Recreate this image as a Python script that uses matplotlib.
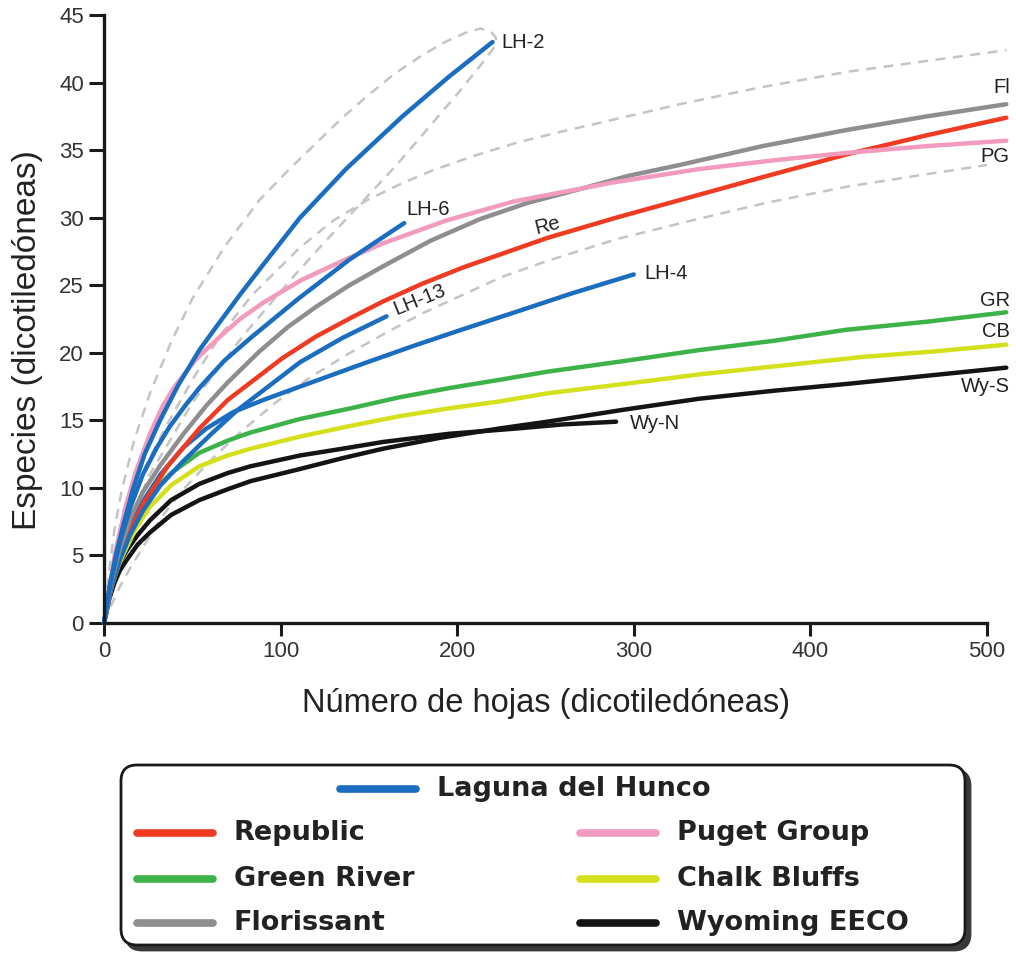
import matplotlib.pyplot as plt
from matplotlib.patches import FancyBboxPatch

plt.rcParams['font.family'] = ['Liberation Sans', 'DejaVu Sans']

# curvas de rarefaccion (x = hojas, y = especies)
lh2_x = [0, 3, 7, 11, 16.6, 23, 31.7, 42, 54, 64, 77, 90, 111, 137, 169, 195, 220]
lh2_y = [0, 2.6, 5.2, 7.3, 10, 12.5, 15, 17.6, 20.2, 22.0, 24.3, 26.5, 30.0, 33.6, 37.5, 40.4, 43]
lh6_x = [0, 4, 9, 15, 22, 30, 37, 46, 54, 68, 83, 96, 110, 125, 139, 155, 170]
lh6_y = [0, 3.2, 6, 8.6, 11, 13, 14.5, 16.1, 17.4, 19.4, 21.1, 22.5, 24, 25.5, 26.9, 28.3, 29.6]
lh13_x = [0, 4, 9, 15, 22, 32, 45, 60, 75, 90, 111, 135, 160]
lh13_y = [0, 2.6, 4.7, 6.6, 8.3, 10.2, 12, 13.9, 15.7, 17.2, 19.3, 21.1, 22.7]
lh4_x = [0, 4, 9, 15, 22, 32, 45, 58, 73, 90, 111, 130, 149, 175, 200, 235, 265, 300]
lh4_y = [0, 2.8, 5, 7.2, 9, 11, 13, 14.4, 15.6, 16.5, 17.5, 18.4, 19.3, 20.5, 21.6, 23.1, 24.4, 25.8]
pg_x = [0, 6, 12, 18, 26, 33, 40, 52, 64, 77, 90, 112, 135, 158, 194, 232, 288, 337, 383, 421, 466, 511]
pg_y = [0, 5, 8.5, 11.2, 14, 16, 17.5, 19.5, 21, 22.5, 23.7, 25.4, 26.8, 28.1, 29.8, 31.2, 32.6, 33.6, 34.3, 34.8, 35.3, 35.7]
fl_x = [0, 4, 9, 15, 22, 32, 45, 58, 70, 88, 104, 120, 139, 158, 185, 213, 240, 269, 297, 326, 373, 421, 466, 511]
fl_y = [0, 3, 5.5, 7.8, 9.7, 11.7, 14, 16.1, 17.8, 20.1, 21.9, 23.4, 25, 26.4, 28.3, 29.9, 31.1, 32.1, 33.1, 33.9, 35.3, 36.5, 37.5, 38.4]
re_x = [0, 4, 9, 15, 22, 36, 54, 70, 87, 101, 120, 140, 158, 180, 203, 227, 251, 290, 326, 373, 421, 466, 511]
re_y = [0, 2.6, 4.8, 6.9, 8.8, 11.6, 14.4, 16.5, 18.2, 19.6, 21.2, 22.6, 23.8, 25.1, 26.3, 27.4, 28.5, 30, 31.3, 33, 34.7, 36.1, 37.4]
gr_x = [0, 3, 6, 9, 12, 18, 26, 38, 54, 70, 83, 111, 140, 167, 196, 224, 251, 295, 337, 380, 420, 466, 511]
gr_y = [0, 2.3, 4, 5.4, 6.5, 8, 9.5, 11.1, 12.6, 13.5, 14.1, 15.1, 15.9, 16.7, 17.4, 18, 18.6, 19.4, 20.2, 20.9, 21.7, 22.3, 23]
cb_x = [0, 3, 5, 8, 11, 18, 26, 38, 54, 70, 83, 111, 140, 167, 196, 224, 251, 295, 337, 380, 430, 470, 511]
cb_y = [0, 2, 3, 4.2, 5.1, 7, 8.6, 10.2, 11.6, 12.4, 12.9, 13.8, 14.6, 15.3, 15.9, 16.4, 17, 17.7, 18.4, 19, 19.7, 20.1, 20.6]
wyn_x = [0, 3, 6, 9, 13, 19, 26, 38, 54, 70, 83, 111, 135, 158, 195, 234, 260, 290]
wyn_y = [0, 2, 3.5, 4.5, 5.4, 6.5, 7.6, 9.1, 10.3, 11.1, 11.6, 12.4, 12.9, 13.4, 14, 14.4, 14.7, 14.9]
wys_x = [0, 3, 6, 9, 13, 19, 26, 38, 54, 70, 83, 111, 135, 158, 190, 224, 251, 295, 337, 380, 421, 466, 511]
wys_y = [0, 1.8, 3, 3.9, 4.7, 5.8, 6.7, 8, 9.1, 9.9, 10.5, 11.4, 12.2, 12.9, 13.7, 14.4, 14.9, 15.8, 16.6, 17.2, 17.7, 18.3, 18.9]

# intervalos de confianza (lineas discontinuas)
ci_lh2_x = [0, 3, 6, 10, 17, 26, 38, 50, 68, 88, 105, 120, 135, 149, 165, 180, 193, 205, 213, 219, 222,
            222, 214, 201, 186, 165, 145, 125, 107, 79, 50, 25, 10, 0]
ci_lh2_y = [0, 4, 7, 9.8, 13.5, 17, 20.8, 24, 27.8, 31.3, 33.6, 35.5, 37.4, 39, 40.7, 42, 43, 43.7, 44, 43.8, 43.3,
            42.8, 41.4, 39.3, 37, 33.8, 31, 28.2, 25.6, 21.3, 16.3, 10.8, 5.5, 0]
ci_up_x = [0, 5, 10, 17, 25, 37, 50, 66, 84, 111, 130, 149, 168, 186, 210, 235, 260, 290, 326, 370, 421, 466, 511]
ci_up_y = [0, 4, 6.8, 9.6, 12, 15, 18, 21.3, 24.3, 27.8, 29.8, 31.3, 32.5, 33.5, 34.6, 35.6, 36.4, 37.3, 38.4, 39.6, 40.8, 41.6, 42.4]
ci_lo_x = [0, 4, 9, 15, 22, 33, 45, 60, 77, 97, 117, 138, 160, 180, 200, 225, 251, 290, 333, 375, 421, 460, 500]
ci_lo_y = [0, 1.3, 2.7, 4.1, 5.6, 7.9, 9.9, 12, 14.1, 16.3, 18.2, 19.9, 21.5, 22.9, 24.1, 25.6, 26.8, 28.4, 29.8, 31.1, 32.3, 33.1, 33.9]

c_blue = '#1b6ebf'
c_red = '#ee3b22'
c_pink = '#f29bbf'
c_gray = '#8e8e90'
c_green = '#3db249'
c_yellow = '#d5e01d'
c_black = '#141414'
c_dash = '#c4c4c4'

fig = plt.figure(figsize=(10.16, 9.57), dpi=100)
ax = fig.add_axes([0.1024, 0.3490, 0.8898, 0.6353])

for xs, ys in [(ci_lh2_x, ci_lh2_y), (ci_up_x, ci_up_y), (ci_lo_x, ci_lo_y)]:
    ax.plot(xs, ys, color=c_dash, lw=1.8, ls=(0, (4, 3)), clip_on=False)

series = [
    (wys_x, wys_y, c_black), (wyn_x, wyn_y, c_black),
    (cb_x, cb_y, c_yellow), (gr_x, gr_y, c_green),
    (lh4_x, lh4_y, c_blue), (re_x, re_y, c_red), (lh13_x, lh13_y, c_blue),
    (fl_x, fl_y, c_gray), (pg_x, pg_y, c_pink),
    (lh6_x, lh6_y, c_blue), (lh2_x, lh2_y, c_blue),
]
for xs, ys, c in series:
    ax.plot(xs, ys, color=c, lw=3.2, solid_capstyle='round', solid_joinstyle='round', clip_on=False)

lab_kw = dict(fontsize=14.5, color='#222222', va='center')
ax.text(225, 43, 'LH-2', ha='left', **lab_kw)
ax.text(171, 30.6, 'LH-6', ha='left', **lab_kw)
ax.text(306, 25.9, 'LH-4', ha='left', **lab_kw)
ax.text(298, 14.8, 'Wy-N', ha='left', **lab_kw)
ax.text(513, 39.6, 'Fl', ha='right', **lab_kw)
ax.text(513, 34.5, 'PG', ha='right', **lab_kw)
ax.text(513, 23.9, 'GR', ha='right', **lab_kw)
ax.text(513, 21.6, 'CB', ha='right', **lab_kw)
ax.text(513, 17.5, 'Wy-S', ha='right', **lab_kw)
ax.text(251, 29.4, 'Re', ha='center', rotation=14, **lab_kw)
ax.text(179, 23.9, 'LH-13', ha='center', rotation=22, **lab_kw)

ax.set_xlim(0, 512)
ax.set_ylim(0, 45)
ax.set_xticks([0, 100, 200, 300, 400, 500])
ax.set_yticks(range(0, 46, 5))
for s in ['top', 'right']:
    ax.spines[s].set_visible(False)
ax.spines['left'].set_bounds(0, 45)
ax.spines['bottom'].set_bounds(0, 500)
for s in ['left', 'bottom']:
    ax.spines[s].set_linewidth(2.4)
    ax.spines[s].set_color('#1a1a1a')
ax.tick_params(direction='out', length=9.5, width=2.2, color='#1a1a1a',
               labelsize=16, labelcolor='#333333', pad=3.5)
ax.tick_params(axis='y', length=11)
ax.set_xlabel('Número de hojas (dicotiledóneas)', fontsize=23.5, color='#222222')
ax.set_ylabel('Especies (dicotiledóneas)', fontsize=24, color='#222222')
ax.xaxis.set_label_coords(0.489, -0.107)
ax.yaxis.set_label_coords(-0.067, 0.465)

# leyenda dibujada a mano
names = ['Laguna del Hunco', 'Republic', 'Puget Group', 'Green River',
         'Chalk Bluffs', 'Florissant', 'Wyoming EECO']
colors = [c_blue, c_red, c_pink, c_green, c_yellow, c_gray, c_black]
spots = [(340, 789), (137, 833), (580, 833), (137, 879), (580, 879), (137, 923), (580, 923)]

lg = fig.add_axes([0, 0, 1, 1])
lg.set_xlim(0, 1016)
lg.set_ylim(957, 0)
lg.axis('off')
lg.add_patch(FancyBboxPatch((126, 770), 844, 180, boxstyle='round,pad=0,rounding_size=16',
                            fc='#3a3a3a', ec='#3a3a3a', lw=2))
lg.add_patch(FancyBboxPatch((121, 765), 844, 180, boxstyle='round,pad=0,rounding_size=16',
                            fc='white', ec='#1a1a1a', lw=2))
for name, c, (x0, y0) in zip(names, colors, spots):
    lg.plot([x0, x0 + 76], [y0, y0], color=c, lw=5.5, solid_capstyle='round')
    lg.text(x0 + 97, y0, name, fontsize=19.5, fontweight='bold', color='#222222',
            family='DejaVu Sans', ha='left', va='center')

fig.savefig('out.png', dpi=100)
